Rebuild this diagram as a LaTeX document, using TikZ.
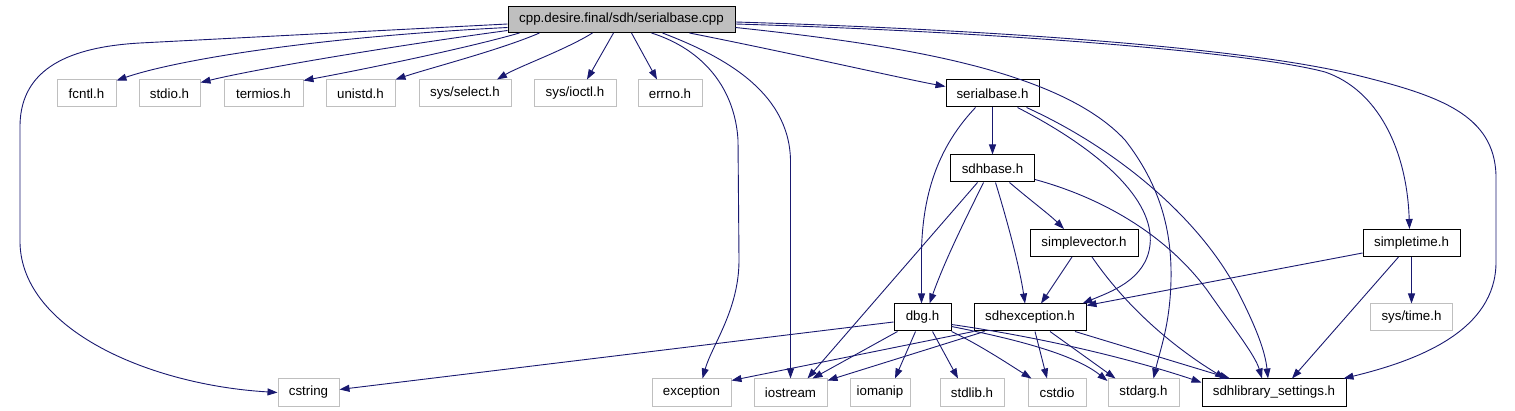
\documentclass[tikz,border=0pt]{standalone}
\usepackage{fontspec}
\setmainfont{Liberation Sans}
\usetikzlibrary{arrows.meta}
\definecolor{edgeblue}{HTML}{191970}
\definecolor{boxgray}{HTML}{BFBFBF}
\begin{document}
\begin{tikzpicture}[x=1pt,y=-1pt,
  base/.style={draw, line width=1pt, inner sep=0pt, minimum height=27pt,
    font=\fontsize{13.33}{16}\selectfont, text=black},
  ext/.style={base, draw=boxgray},
  int/.style={base, draw=black},
  root/.style={base, draw=black, fill=boxgray, minimum height=26pt},
  wd/.style={minimum width=#1pt},
  e/.style={draw=edgeblue, line width=0.9pt, -{Triangle[length=10pt,width=7pt]}, fill=none}
]
\useasboundingbox (0,0) rectangle (1515,411);

% nodes
\node[root, wd=227] (cpp) at (621.5,19.5) {cpp.desire.final/sdh/serialbase.cpp};
\node[ext, wd=59] (fcntl) at (86.5,93.5) {fcntl.h};
\node[ext, wd=61] (stdio) at (169.5,93.5) {stdio.h};
\node[ext, wd=79] (termios) at (263.5,93.5) {termios.h};
\node[ext, wd=69] (unistd) at (360.5,93.5) {unistd.h};
\node[ext, wd=92] (select) at (465,93.5) {sys/select.h};
\node[ext, wd=82] (ioctl) at (575,93.5) {sys/ioctl.h};
\node[ext, wd=64] (errno) at (670,93.5) {errno.h};
\node[int, wd=93] (serialbase) at (992.5,93.5) {serialbase.h};
\node[int, wd=84] (sdhbase) at (992.5,168.5) {sdhbase.h};
\node[int, wd=108] (simplevector) at (1084,243) {simplevector.h};
\node[int, wd=97] (simpletime) at (1411.5,243) {simpletime.h};
\node[int, wd=57] (dbg) at (922.5,317.5) {dbg.h};
\node[int, wd=112] (sdhexc) at (1030,317.5) {sdhexception.h};
\node[ext, wd=82] (systime) at (1411.5,317.5) {sys/time.h};
\node[ext, wd=61] (cstring) at (308.5,392.5) {cstring};
\node[ext, wd=79] (exception) at (691.5,392.5) {exception};
\node[ext, wd=73] (iostream) at (790.5,392.5) {iostream};
\node[ext, wd=60] (iomanip) at (880,392.5) {iomanip};
\node[ext, wd=64] (stdlib) at (972,392.5) {stdlib.h};
\node[ext, wd=58] (cstdio) at (1057,392.5) {cstdio};
\node[ext, wd=71] (stdarg) at (1143.5,392.5) {stdarg.h};
\node[int, wd=144] (sdhlib) at (1274,392.5) {sdhlibrary\_settings.h};

% edges from cpp
\draw[e] ([yshift=-4.5pt]cpp.west) -- (140,43) .. controls (70,47) and (21,68) .. (20,125) -- (20,243) .. controls (22,330) and (150,385) .. (cstring.west);
\draw[e] ([yshift=-8pt]cpp.west) .. controls (300,38) and (170,62) .. ([yshift=-1pt]fcntl.north east);
\draw[e] ([yshift=-11pt]cpp.west) .. controls (400,45) and (260,68) .. ([yshift=-3pt]stdio.north east);
\draw[e] ([xshift=12pt]cpp.south west) .. controls (460,50) and (350,72) .. ([yshift=-1pt]termios.north east);
\draw[e] ([xshift=32pt]cpp.south west) .. controls (500,50) and (430,68) .. (unistd.north east);
\draw[e] ([xshift=85pt]cpp.south west) .. controls (565,50) and (520,66) .. ([xshift=32pt]select.north);
\draw[e] ([xshift=-8pt]cpp.south) -- ([xshift=12pt]ioctl.north);
\draw[e] ([xshift=10pt]cpp.south) -- ([xshift=-13pt]errno.north);
\draw[e] ([xshift=30pt]cpp.south) .. controls (705,50) and (735,90) .. (738,140) -- (739,260) .. controls (739,310) and (712,345) .. ([xshift=11pt]exception.north);
\draw[e] ([xshift=41pt]cpp.south) .. controls (720,55) and (789,90) .. (790.5,160) -- (iostream.north);
\draw[e] ([xshift=68pt]cpp.south) .. controls (800,55) and (900,78) .. ([yshift=7pt]serialbase.west);
\draw[e] ([yshift=-8pt]cpp.east) .. controls (900,45) and (1060,70) .. (1125,140) .. controls (1160,185) and (1172,230) .. (1171,280) .. controls (1170,325) and (1160,350) .. ([xshift=10pt]stdarg.north);
\draw[e] ([yshift=-4.5pt]cpp.east) .. controls (1000,32) and (1250,52) .. (1325,72) .. controls (1378,90) and (1407,150) .. ([xshift=-2pt]simpletime.north);
\draw[e] ([yshift=-2.5pt]cpp.east) .. controls (1000,30) and (1250,48) .. (1360,76) .. controls (1440,96) and (1494,115) .. (1496,175) -- (1496,262) .. controls (1496,330) and (1420,360) .. ([xshift=-3pt]sdhlib.north east);

% serialbase.h
\draw[e] (serialbase) -- (sdhbase);
\draw[e] ([xshift=-17pt]serialbase.south) .. controls (940,145) and (923,190) .. (921.5,250) -- ([xshift=-1pt]dbg.north);
\draw[e] ([xshift=25pt]serialbase.south) .. controls (1100,150) and (1155,200) .. (1150,245) .. controls (1146,280) and (1110,292) .. ([xshift=-4pt]sdhexc.north east);
\draw[e] ([xshift=34pt]serialbase.south) .. controls (1120,150) and (1200,220) .. (1237,290) .. controls (1255,325) and (1265,350) .. ([xshift=-6pt]sdhlib.north);

% sdhbase.h
\draw[e] ([xshift=-15pt]sdhbase.south) -- ([xshift=17pt]iostream.north);
\draw[e] ([xshift=-9pt]sdhbase.south) .. controls (965,220) and (945,260) .. ([xshift=7pt]dbg.north);
\draw[e] ([xshift=3pt]sdhbase.south) .. controls (1010,230) and (1020,270) .. ([xshift=-5pt]sdhexc.north);
\draw[e] ([xshift=17pt]sdhbase.south) .. controls (1030,200) and (1050,215) .. ([xshift=-20pt]simplevector.north);
\draw[e] ([yshift=-11pt]sdhbase.east) .. controls (1110,200) and (1170,240) .. (1207,290) .. controls (1235,330) and (1255,355) .. ([xshift=-12pt]sdhlib.north);

% simplevector.h
\draw[e] ([xshift=-12pt]simplevector.south) -- ([xshift=11pt]sdhexc.north);
\draw[e] ([xshift=8pt]simplevector.south) .. controls (1125,305) and (1170,345) .. ([xshift=-49pt]sdhlib.north);

% simpletime.h
\draw[e] (simpletime) -- (systime);
\draw[e] ([yshift=-10pt]simpletime.west) -- ([yshift=-2pt]sdhexc.north east);
\draw[e] ([xshift=-13pt]simpletime.south) -- ([xshift=18pt]sdhlib.north);

% dbg.h
\draw[e] ([yshift=-4.5pt]dbg.west) -- ([yshift=3pt]cstring.east);
\draw[e] ([xshift=-25pt]dbg.south) -- ([xshift=22pt]iostream.north);
\draw[e] ([xshift=-7pt]dbg.south) -- ([xshift=15pt]iomanip.north);
\draw[e] ([xshift=10pt]dbg.south) -- ([xshift=-14pt]stdlib.north);
\draw[e] (dbg.south east) .. controls (980,345) and (1010,365) .. ([xshift=4pt]cstdio.north west);
\draw[e] ([yshift=-9pt]dbg.east) .. controls (1020,340) and (1075,355) .. ([yshift=-2.5pt]stdarg.north west);
\draw[e] ([yshift=-7pt]dbg.east) .. controls (1060,340) and (1150,365) .. ([yshift=10pt]sdhlib.west);

% sdhexception.h
\draw[e] (sdhexc.south west) -- ([yshift=-2pt]exception.north east);
\draw[e] ([xshift=11pt]sdhexc.south west) -- ([yshift=-2pt]iostream.north east);
\draw[e] ([xshift=5pt]sdhexc.south) -- ([xshift=-10pt]cstdio.north);
\draw[e] ([xshift=20pt]sdhexc.south) -- ([xshift=-28pt]stdarg.north);
\draw[e] ([xshift=45pt]sdhexc.south) -- ([xshift=-44pt]sdhlib.north);
\end{tikzpicture}
\end{document}
